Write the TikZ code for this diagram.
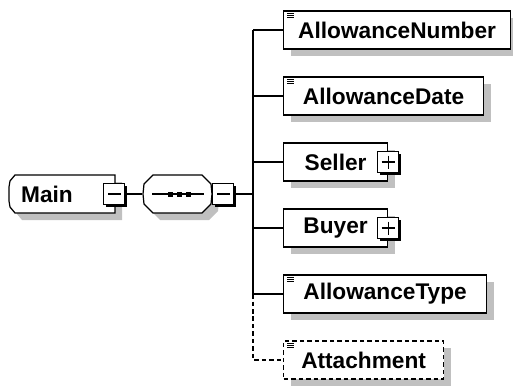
\documentclass[tikz,border=0pt]{standalone}
\usepackage{fontspec}
\setmainfont{Liberation Sans}
\usetikzlibrary{shadows}

\definecolor{shadowgray}{RGB}{192,192,192}

\tikzset{
  boxshadow/.style={drop shadow={shadow xshift=0.14cm, shadow yshift=-0.14cm, fill=shadowgray, opacity=1}},
  label font/.style={font=\fontsize{12.9}{14}\selectfont\bfseries},
  elem/.style={draw, fill=white, boxshadow, label font, minimum height=0.76cm, inner sep=0pt, anchor=west},
  optelem/.style={elem, dash pattern=on 0.09cm off 0.06cm},
  elemtext/.style={label font, inner sep=0pt},
  toggle/.style={draw, fill=white, minimum size=0.42cm, inner sep=0pt,
    drop shadow={shadow xshift=0.05cm, shadow yshift=-0.05cm, fill=black, opacity=1}},
  minusbox/.style={toggle, path picture={
    \draw ([xshift=0.09cm]path picture bounding box.west) -- ([xshift=-0.07cm]path picture bounding box.east);}},
  plusbox/.style={toggle, path picture={
    \draw ([xshift=0.08cm]path picture bounding box.west) -- ([xshift=-0.08cm]path picture bounding box.east)
          ([yshift=-0.08cm]path picture bounding box.north) -- ([yshift=0.08cm]path picture bounding box.south);}},
  seqbox/.style={minimum width=1.38cm, minimum height=0.76cm, inner sep=0pt},
}

\begin{document}
\begin{tikzpicture}[x=0.02cm, y=-0.02cm, line width=0.7pt]
    \useasboundingbox (0,0) rectangle (513,385);

    % root element and sequence
    \draw[fill=white, boxshadow] (15,175) -- (115,175) -- (115,213) -- (15,213) -- (10,207) -- (9,201)
        -- (9,187) -- (10,181) -- cycle;
    \draw[fill=white, boxshadow] (153,175) -- (202,175) -- (211,184) -- (212,194) -- (211,204) -- (202,213)
        -- (153,213) -- (144,204) -- (143,194) -- (144,184) -- cycle;
    \node[elemtext] (main) at (47,194) {Main};
    \node[minusbox] (mainmin) at (114,194) {};
    \node[seqbox] (seq) at (177.5,194) {};
    \node[minusbox] (seqmin) at (223,194) {};
    \coordinate (bus) at (253,194);

    % sequence symbol
    \draw ([xshift=0.2cm]seq.west) -- ([xshift=-0.18cm]seq.east);
    \foreach \i in {-1,0,1}
        \fill ([xshift=0.04cm+\i*0.18cm]seq.center) ++(-0.05cm,-0.05cm) rectangle ++(0.1cm,0.1cm);

    % children
    \node[elem, minimum width=4.54cm] (num) at (283,30) {AllowanceNumber};
    \node[elem, minimum width=4.00cm] (date) at (283,96) {AllowanceDate};
    \node[elem, minimum width=2.08cm] (seller) at (283,162) {Seller};
    \node[elem, minimum width=2.08cm] (buyer) at (283,228) {Buyer};
    \node[elem, minimum width=4.06cm] (type) at (283,294) {AllowanceType};
    \node[optelem, minimum width=3.20cm] (att) at (283,360) {Attachment};
    \node[plusbox] (sellerplus) at (seller.east) {};
    \node[plusbox] (buyerplus) at (buyer.east) {};

    % simple type marks
    \foreach \n in {num,date,type,att}
        \foreach \d in {0.06,0.1,0.14}
            \draw[line width=0.7pt] ([shift={(0.08cm,-\d cm)}]\n.north west) -- ++(0.14cm,0);

    % connectors
    \draw (mainmin.east) -- (seq.west);
    \draw (seqmin.east) -- (bus);
    \draw (bus |- num.west) -- (bus |- type.west);
    \foreach \n in {num,date,seller,buyer,type}
        \draw (bus |- \n.west) -- (\n.west);
    \draw[dash pattern=on 0.09cm off 0.06cm] (bus |- type.west) -- (bus |- att.west) -- (att.west);
\end{tikzpicture}
\end{document}
